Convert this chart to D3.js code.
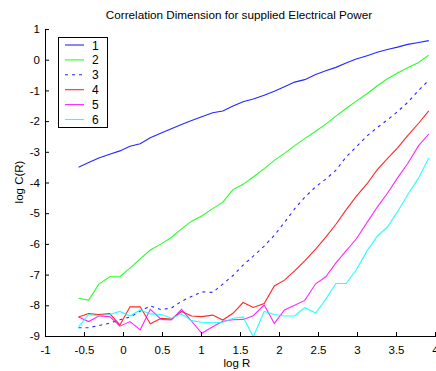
<!DOCTYPE html>
<html><head><meta charset="utf-8">
<script src="https://cdn.jsdelivr.net/npm/d3@7"></script>
<style>
html,body{margin:0;padding:0;background:#fff;}
svg{display:block;font-family:Arial,"Liberation Sans",sans-serif;}
</style></head>
<body>
<svg id="c" width="436" height="371"></svg>
<script>
const logR = [-0.57,-0.44,-0.31,-0.17,-0.04,0.09,0.22,0.35,0.49,0.62,0.75,0.88,1.01,1.15,1.28,1.41,1.54,1.67,1.81,1.94,2.07,2.20,2.33,2.47,2.60,2.73,2.86,2.99,3.13,3.26,3.39,3.52,3.65,3.79,3.92];
const s1 = [-3.50,-3.35,-3.20,-3.08,-2.97,-2.82,-2.74,-2.54,-2.39,-2.25,-2.11,-1.98,-1.86,-1.73,-1.67,-1.51,-1.37,-1.28,-1.16,-1.03,-0.88,-0.73,-0.65,-0.48,-0.36,-0.25,-0.11,0.02,0.13,0.24,0.33,0.41,0.50,0.56,0.62];
const s2 = [-7.77,-7.83,-7.31,-7.07,-7.07,-6.79,-6.49,-6.20,-6.00,-5.79,-5.51,-5.26,-5.09,-4.85,-4.64,-4.23,-4.06,-3.82,-3.55,-3.28,-3.05,-2.80,-2.57,-2.33,-2.10,-1.84,-1.59,-1.35,-1.11,-0.85,-0.62,-0.43,-0.26,-0.09,0.15];
const s3 = [-8.73,-8.73,-8.66,-8.58,-8.47,-8.38,-8.19,-8.02,-8.14,-8.09,-7.87,-7.71,-7.56,-7.58,-7.31,-7.03,-6.69,-6.40,-6.07,-5.72,-5.30,-4.86,-4.48,-4.14,-3.89,-3.60,-3.17,-2.84,-2.48,-2.21,-1.96,-1.69,-1.39,-1.00,-0.67];
const s4 = [-8.38,-8.27,-8.30,-8.27,-8.64,-8.05,-8.05,-8.60,-8.42,-8.45,-8.20,-8.35,-8.37,-8.32,-8.48,-8.26,-7.91,-8.07,-7.94,-7.37,-7.18,-6.88,-6.55,-6.17,-5.78,-5.36,-4.89,-4.45,-4.04,-3.58,-3.22,-2.87,-2.47,-2.07,-1.67];
const s5 = [-8.38,-8.53,-8.35,-8.37,-8.68,-8.53,-8.80,-8.13,-8.46,-8.48,-8.13,-8.52,-8.91,-8.70,-8.52,-8.47,-8.46,-8.34,-7.99,-8.59,-8.15,-8.00,-7.84,-7.30,-7.07,-6.62,-6.23,-5.84,-5.30,-4.80,-4.35,-3.85,-3.38,-2.80,-2.42];
const s6 = [-8.70,-8.30,-8.35,-8.30,-8.20,-8.35,-8.15,-8.28,-8.30,-8.42,-8.28,-8.50,-8.55,-8.57,-8.55,-8.42,-8.38,-9.03,-8.20,-8.30,-8.35,-8.35,-8.08,-8.25,-7.80,-7.29,-7.29,-6.85,-6.22,-5.75,-5.45,-4.95,-4.40,-3.85,-3.20];
const seriesNames = ["1","2","3","4","5","6"];
const seriesColors = ["#0000ff","#00ff00","#0000ff","#ff0000","#ff00ff","#00ffff"];
const seriesDash = [null,null,"3,4",null,null,null];
const xTicks = [-1,-0.5,0,0.5,1,1.5,2,2.5,3,3.5,4];
const yTicks = [1,0,-1,-2,-3,-4,-5,-6,-7,-8,-9];
const titleText = "Correlation Dimension for supplied Electrical Power";
const xLabel = "log R";
const yLabel = "log C(R)";

const allSeries = [s1,s2,s3,s4,s5,s6];
const svg = d3.select("#c");
const x = d3.scaleLinear().domain([-1,4]).range([45,435]);
const y = d3.scaleLinear().domain([-9,1]).range([336,29]);

// lines
const line = d3.line().x((d,i)=>x(logR[i])).y(d=>y(d));
allSeries.forEach((s,k)=>{
  svg.append("path").datum(s).attr("d",line)
    .attr("fill","none").attr("stroke",seriesColors[k])
    .attr("stroke-width",1.1).attr("opacity",0.85)
    .attr("stroke-dasharray",seriesDash[k]);
});

// axes
const fmt = d => d3.format("")(d).replace("−","-");
const gx = svg.append("g").attr("transform","translate(0,336)")
  .call(d3.axisBottom(x).tickValues(xTicks).tickSize(-4).tickSizeOuter(0).tickPadding(6).tickFormat(fmt));
const gy = svg.append("g").attr("transform","translate(45,0)")
  .call(d3.axisLeft(y).tickValues(yTicks).tickSize(-4).tickSizeOuter(0).tickPadding(5).tickFormat(fmt));
[gx,gy].forEach(g=>{
  g.selectAll("text").attr("font-size","11.5px").attr("fill","#000").attr("font-family","Arial,'Liberation Sans',sans-serif");
  g.selectAll("line").attr("stroke","#000");
  g.select(".domain").attr("stroke","#000");
});
gx.select(".domain").attr("d","M45,0.5H436");
gx.selectAll(".tick text").attr("dy","1.0em");

// title & labels
svg.append("text").attr("x",239).attr("y",19).attr("text-anchor","middle")
  .attr("font-size","11.7px").text(titleText);
svg.append("text").attr("x",237).attr("y",367).attr("text-anchor","middle")
  .attr("font-size","11.5px").text(xLabel);
svg.append("text").attr("transform","translate(23,182) rotate(-90)").attr("text-anchor","middle")
  .attr("font-size","11.5px").text(yLabel);

// legend
const lg = svg.append("g");
lg.append("rect").attr("x",58.5).attr("y",37.5).attr("width",49).attr("height",90)
  .attr("fill","#fff").attr("stroke","#000").attr("stroke-width",1);
seriesNames.forEach((n,k)=>{
  const yy = 45 + k*14.9;
  lg.append("line").attr("x1",65).attr("x2",84).attr("y1",yy).attr("y2",yy)
    .attr("stroke",seriesColors[k]).attr("stroke-width",1.1).attr("opacity",0.85)
    .attr("stroke-dasharray",seriesDash[k]);
  lg.append("text").attr("x",92).attr("y",yy+4.5).attr("font-size","12px").text(n);
});
</script>
</body></html>
